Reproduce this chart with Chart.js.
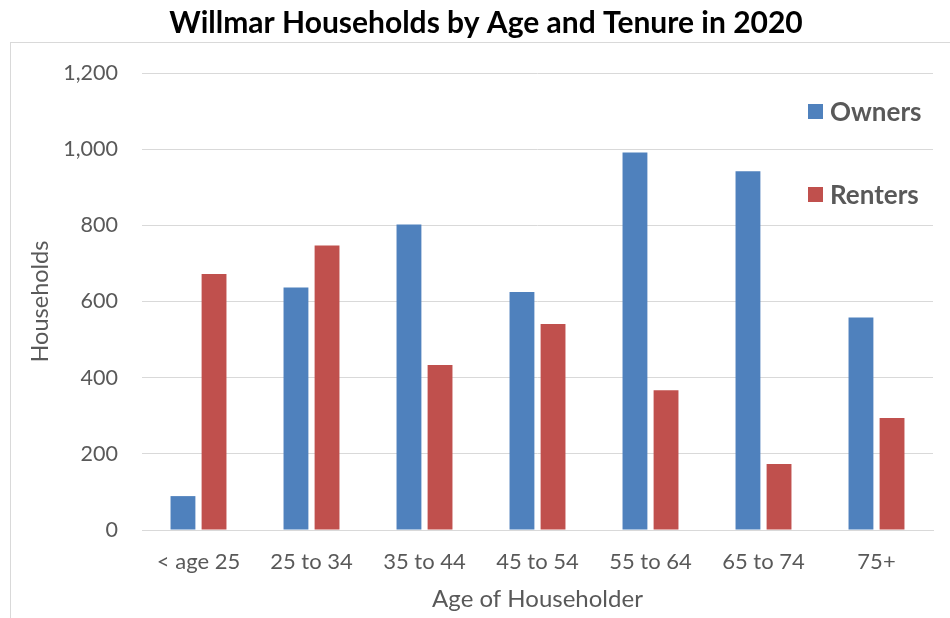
<!DOCTYPE html>
<html>
<head>
<meta charset="utf-8">
<script src="https://cdn.jsdelivr.net/npm/chart.js@4"></script>
<style>
  html, body { margin: 0; padding: 0; background: #fff; }
  #wrap { width: 950px; height: 618px; }
</style>
</head>
<body>
<div id="wrap"><canvas id="chart"></canvas></div>
<script>
// data
const ageGroups = ["< age 25", "25 to 34", "35 to 44", "45 to 54", "55 to 64", "65 to 74", "75+"];
const owners = [89, 637, 802, 625, 991, 942, 558];
const renters = [672, 747, 433, 541, 367, 173, 294];
const yTicks = [0, 200, 400, 600, 800, 1000, 1200];
const chartTitle = "Willmar Households by Age and Tenure in 2020";

const FONT = "Lato, 'Open Sans', sans-serif";
const GREY = "#595959";

// grey frame round the plot (cut off at right and bottom) + title above it
const framePlugin = {
  id: "frame",
  beforeDraw(chart) {
    const ctx = chart.ctx;
    ctx.save();
    ctx.strokeStyle = "#d9d9d9";
    ctx.lineWidth = 1;
    ctx.strokeRect(10.5, 42.5, 1000, 1000);
    ctx.fillStyle = "#000";
    ctx.font = "bold 30px " + FONT;
    ctx.textAlign = "center";
    ctx.textBaseline = "middle";
    ctx.fillText(chartTitle, 486, 23);
    ctx.restore();
  }
};

// legend stacked inside the plot, top right
const legendPlugin = {
  id: "sideLegend",
  afterDraw(chart) {
    const ctx = chart.ctx;
    const rows = [112, 195];
    ctx.save();
    ctx.font = "bold 26px " + FONT;
    ctx.textBaseline = "middle";
    chart.data.datasets.forEach((ds, i) => {
      ctx.fillStyle = ds.backgroundColor;
      ctx.fillRect(808, rows[i] - 8, 15, 15);
      ctx.fillStyle = GREY;
      ctx.fillText(ds.label, 830, rows[i] + 1);
    });
    ctx.restore();
  }
};

new Chart(document.getElementById("chart"), {
  type: "bar",
  data: {
    labels: ageGroups,
    datasets: [
      { label: "Owners", data: owners, backgroundColor: "#4f81bd" },
      { label: "Renters", data: renters, backgroundColor: "#c0504d" }
    ]
  },
  options: {
    responsive: true,
    maintainAspectRatio: false,
    animation: false,
    layout: { padding: { top: 73, right: 17, bottom: 0, left: 0 } },
    datasets: { bar: { categoryPercentage: 0.55, barPercentage: 0.8 } },
    plugins: {
      legend: { display: false },
      tooltip: { enabled: false },
      title: { display: false }
    },
    scales: {
      x: {
        grid: { display: false, drawTicks: false },
        border: { color: "#d9d9d9", width: 1 },
        ticks: { color: GREY, font: { family: FONT, size: 22 }, padding: 19, maxRotation: 0 },
        title: {
          display: true,
          text: "Age of Householder",
          color: GREY,
          font: { family: FONT, size: 24 },
          padding: { top: 0, bottom: 4 }
        },
        afterFit(scale) { scale.height = 88; }
      },
      y: {
        min: 0,
        max: 1200,
        afterBuildTicks(scale) { scale.ticks = yTicks.map(v => ({ value: v })); },
        grid: { color: "#d9d9d9", drawTicks: false },
        border: { display: false },
        ticks: {
          color: GREY,
          font: { family: FONT, size: 21.5 },
          padding: 24,
          callback: v => v.toLocaleString("en-US")
        },
        title: {
          display: true,
          text: "Households",
          color: GREY,
          font: { family: FONT, size: 23.5 },
          padding: { top: 26, bottom: 0 }
        },
        afterFit(scale) { scale.width = 142; }
      }
    }
  },
  plugins: [framePlugin, legendPlugin]
});
</script>
</body>
</html>
